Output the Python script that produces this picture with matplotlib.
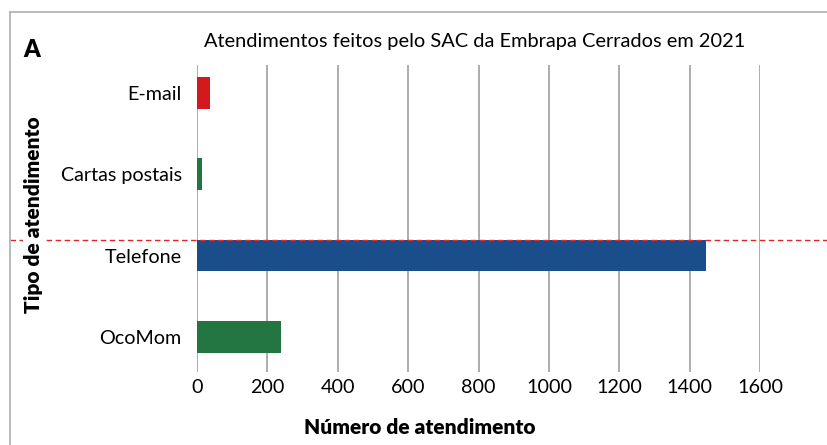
import matplotlib
matplotlib.use("Agg")
import matplotlib.pyplot as plt
from matplotlib.lines import Line2D
from matplotlib.transforms import blended_transform_factory

categories = ["OcoMom", "Telefone", "Cartas postais", "E-mail"]
values = [238, 1446, 13, 36]
colors = ["#237642", "#1a4e8a", "#237642", "#d2191e"]
xticks = [0, 200, 400, 600, 800, 1000, 1200, 1400, 1600]
title = "Atendimentos feitos pelo SAC da Embrapa Cerrados em 2021"

plt.rcParams['font.family'] = ['Lato', 'DejaVu Sans']

W, H = 828, 445
fig = plt.figure(figsize=(W / 100, H / 100), dpi=100)
ax = fig.add_axes([197 / W, 1 - 372 / H, (760 - 197) / W, (372 - 65) / H])

bar_h = 0.39
ypos = list(range(len(categories)))
ax.barh(ypos, values, height=bar_h, color=colors, zorder=3)

ax.set_xlim(0, 1600)
ax.set_ylim(-0.43, 3.34)
ax.set_xticks(xticks)
ax.set_xticklabels([str(t) for t in xticks], fontsize=14.2)
ax.set_yticks(ypos)
ax.set_yticklabels(categories, fontsize=14.2)
ax.tick_params(axis='y', length=0, pad=11)
ax.tick_params(axis='x', length=0, pad=5)
ax.grid(axis='x', color='#a6a6a6', linewidth=1.3, zorder=0)
for s in ax.spines.values():
    s.set_visible(False)

# dashed red line across the whole figure at top edge of the Telefone bar
tr = blended_transform_factory(fig.transFigure, ax.transData)
yline = 1 + bar_h / 2
fig.add_artist(Line2D([10 / W, 1.0], [yline, yline], transform=tr,
                      color='#e0262b', linestyle=(0, (4, 2.5)), linewidth=1.0, zorder=1))

# frame (top and left only visible)
fig.add_artist(Line2D([10 / W, 1.0], [1 - 12 / H, 1 - 12 / H], transform=fig.transFigure,
                      color='#b4b4b4', linewidth=1.3))
fig.add_artist(Line2D([10 / W, 10 / W], [0, 1 - 12 / H], transform=fig.transFigure,
                      color='#b4b4b4', linewidth=1.3))

fig.text(475 / W, 1 - 42 / H, title, ha='center', va='center', fontsize=14.4)
fig.text(32 / W, 1 - 50 / H, "A", ha='center', va='center', fontsize=17, fontweight='heavy')
fig.text(34 / W, 1 - 215 / H, "Tipo de atendimento", ha='center', va='center', rotation=90,
         fontsize=15, fontweight='heavy',
         bbox=dict(facecolor='white', edgecolor='none', pad=1), zorder=5)
fig.text(420 / W, 1 - 428 / H, "Número de atendimento", ha='center', va='center',
         fontsize=15, fontweight='heavy')

fig.savefig("out.png", dpi=100)
